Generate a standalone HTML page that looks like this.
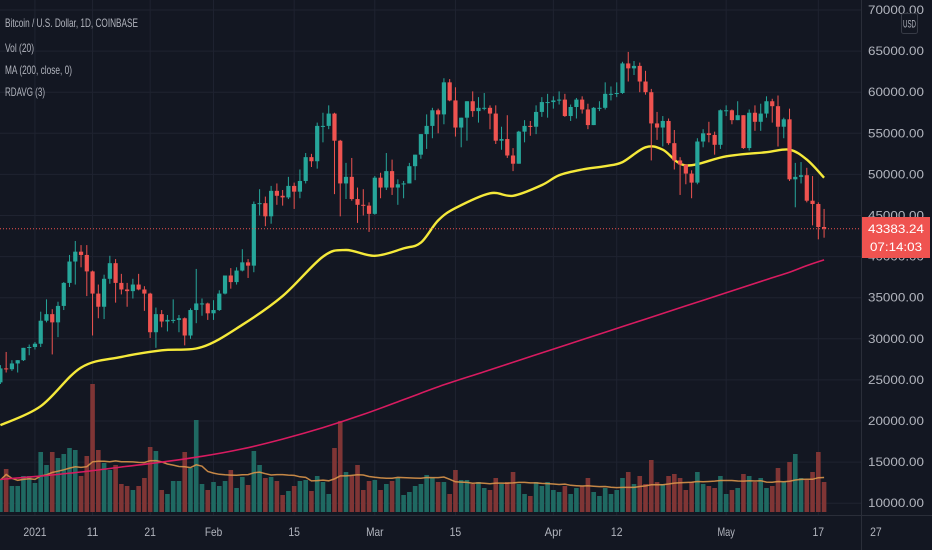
<!DOCTYPE html>
<html><head><meta charset="utf-8">
<style>
html,body{margin:0;padding:0;background:#131722;}
svg{display:block;font-family:"Liberation Sans",sans-serif;}
</style></head>
<body>
<svg id="chart" width="932" height="550" viewBox="0 0 932 550" xmlns="http://www.w3.org/2000/svg">
<rect x="0" y="0" width="932" height="550" fill="#131722"/>
<g id="grid"></g>
<g id="vol"></g>
<g id="lines"></g>
<g id="candles"></g>
<g id="axes"></g>
<g fill="#b2b5be" font-size="12">
<text x="5" y="27" textLength="133" lengthAdjust="spacingAndGlyphs">Bitcoin / U.S. Dollar, 1D, COINBASE</text>
<text x="5" y="52" textLength="29" lengthAdjust="spacingAndGlyphs">Vol (20)</text>
<text x="5" y="74" textLength="67" lengthAdjust="spacingAndGlyphs">MA (200, close, 0)</text>
<text x="5" y="96" textLength="40" lengthAdjust="spacingAndGlyphs">RDAVG (3)</text>
</g>
</svg>
<script>
const closes=[26.4,26.3,27.0,27.4,28.9,29.0,
29.4,32.2,33.0,32.0,34.0,36.8,39.4,40.6,40.2,38.2,35.5,33.9,37.3,39.2,36.8,36.0,35.8,36.6,36.0,35.5,30.8,33.0,32.1,32.3,32.3,32.5,30.4,33.5,34.3,34.3,33.1,
33.5,35.5,37.7,36.9,38.3,39.3,38.9,46.4,46.5,44.9,48.0,47.4,47.2,48.6,47.9,49.2,52.1,51.6,55.9,55.9,57.4,54.1,48.9,49.7,47.0,46.3,46.2,45.2,
49.6,48.4,50.4,48.4,48.8,48.9,51.0,52.4,54.9,55.9,57.8,57.3,61.2,59.0,55.7,56.9,58.9,57.7,58.1,58.1,57.4,54.1,54.3,52.3,51.3,55.2,55.9,55.8,57.6,58.8,58.8,
59.0,59.1,57.1,58.2,59.1,57.9,56.0,58.1,58.1,59.8,59.8,59.9,63.5,62.9,63.2,61.3,60.0,56.2,55.7,56.5,53.8,51.7,51.2,50.1,49.0,54.0,55.0,54.8,53.6,57.8,
57.8,56.6,57.2,53.2,57.5,56.4,57.4,58.9,58.3,55.8,56.7,49.4,49.7,49.9,46.8,46.4,43.6,43.4];
const highs=[26.8,28.4,27.4,27.4,28.9,29.3,
29.6,33.3,34.8,33.6,34.5,36.9,40.2,41.9,41.4,41.4,38.3,36.6,37.8,40.1,39.7,37.9,36.8,37.3,37.9,36.4,35.6,33.8,33.5,32.9,34.8,32.9,32.6,33.7,38.5,34.9,34.4,
34.7,35.9,37.7,38.6,38.7,40.9,39.7,46.7,48.2,47.3,48.6,48.9,48.1,49.7,49.0,50.6,52.6,52.5,56.3,57.5,58.4,57.5,54.2,51.4,52.0,48.4,48.2,46.6,
49.8,50.2,52.6,51.8,49.4,49.2,51.4,52.4,54.9,57.3,58.1,58.0,61.7,61.6,60.6,56.9,58.9,60.1,59.4,59.9,58.4,58.4,55.8,57.2,53.2,55.3,56.6,56.5,58.4,59.4,59.8,
59.5,60.1,59.8,58.5,59.3,59.5,58.6,58.2,58.9,61.2,60.7,61.2,63.7,64.9,63.8,63.6,62.6,60.4,57.6,57.1,56.8,55.4,52.1,51.2,50.5,54.4,55.5,56.4,55.2,57.9,
58.4,57.9,58.9,57.2,57.9,58.4,58.6,59.5,59.2,59.6,56.9,58.0,51.4,51.5,50.8,49.8,46.6,45.8];
const lows=[24.5,25.9,26.1,25.9,27.3,28.0,
28.7,29.0,32.0,28.1,30.2,33.5,36.3,36.6,38.7,35.2,30.4,32.5,32.4,36.7,34.4,35.4,33.9,34.9,35.9,33.4,30.1,28.9,31.4,30.9,31.9,30.8,29.2,30.0,31.9,32.8,32.3,
32.3,33.4,35.4,36.1,36.6,38.2,37.4,38.1,45.0,43.7,44.0,46.3,46.2,47.0,45.8,47.1,48.9,50.9,50.7,53.9,55.5,47.6,44.9,47.0,46.8,44.1,45.0,43.0,
45.1,47.1,48.1,47.5,46.3,47.1,48.9,49.3,51.9,53.1,54.4,55.0,56.1,58.9,54.6,53.3,54.1,57.0,56.3,57.8,55.5,53.7,53.0,52.0,50.4,51.3,53.9,54.7,54.9,57.0,56.9,
58.0,58.5,57.0,56.5,56.8,57.4,55.5,56.0,57.7,57.9,59.0,59.4,59.8,61.3,62.1,60.0,59.7,51.7,54.2,53.4,53.6,50.6,47.5,48.8,47.1,48.8,53.3,53.9,52.4,53.1,
57.1,56.1,56.6,53.1,52.9,55.3,55.3,56.9,56.3,53.4,54.4,49.2,46.0,48.9,46.6,43.8,42.1,42.3];
const volumes=[32,43,26,26,36,36,29,60,47,60,54,58,64,62,36,56,128,62,49,42,47,28,26,22,26,34,65,61,22,18,31,31,60,44,92,28,22,30,26,31,42,24,35,27,61,47,34,35,31,17,21,26,31,32,21,36,30,18,64,91,40,36,47,22,31,32,22,28,31,34,17,20,26,28,37,34,30,30,18,42,32,
32,28,30,24,22,34,28,30,40,28,18,16,30,26,30,
22,20,26,18,24,26,34,20,16,24,18,22,34,40,28,
36,28,52,30,28,36,38,34,22,30,40,28,26,24,36,
18,22,24,38,36,30,34,24,26,44,30,50,58,34,32,40,60,30];
const firstOpen=24.7;
const maIdx=[0,7,14,21,28,35,42,49,56,60,65,70,73,76,79,85,89,94,97,101,105,108,112,115,119,126,133,137,140,143];
const ma50=[19.5,21.8,26.5,27.8,28.6,29.0,31.7,35.2,40.0,40.8,40.1,41.0,41.7,44.4,45.9,47.7,47.4,48.7,49.9,50.6,51.0,51.5,53.3,53.0,51.1,52.2,52.7,53.0,51.8,49.6];
const ma200Idx=[0,7,14,21,28,35,42,49,56,63,70,77,84,91,98,105,112,119,126,133,137,140,143];
const ma200=[12.9,13.3,13.8,14.4,15.0,15.7,16.6,17.8,19.2,20.8,22.6,24.4,26.0,27.6,29.2,30.8,32.4,34.0,35.6,37.2,38.1,38.9,39.6];
const priceTicks=[70,65,60,55,50,45,40,35,30,25,20,15,10];
const dateLabels=["2021","11","21","Feb","15","Mar","15","Apr","12","May","17","27"];
const dateIdx=[6,16,26,37,51,65,79,96,107,126,142,152];
const lastPrice="43383.24", lastPriceVal=43.383, countdown="07:14:03";

const NS="http://www.w3.org/2000/svg";
const X=i=>0.4+i*5.76;
const Y=p=>10+(70-p)*8.22;
const VBASE=512, VS=1.0;
function mk(tag,attrs,parent,txt){const e=document.createElementNS(NS,tag);for(const k in attrs)e.setAttribute(k,attrs[k]);if(txt!==undefined)e.textContent=txt;parent.appendChild(e);return e;}
const grid=document.getElementById('grid'),vol=document.getElementById('vol'),lines=document.getElementById('lines'),cg=document.getElementById('candles'),axes=document.getElementById('axes');
const PW=861;
priceTicks.forEach(p=>{const l=mk('line',{x1:0,x2:PW,y1:Y(p),y2:Y(p),stroke:'#1f2330','stroke-width':1},grid);

});
dateIdx.forEach(i=>{if(X(i)<PW){const l=mk('line',{x1:X(i),x2:X(i),y1:0,y2:515,stroke:'#1f2330','stroke-width':1},grid);

}});
const opens=closes.map((c,i)=>i===0?firstOpen:closes[i-1]);
volumes.forEach((v,i)=>{const up=closes[i]>=opens[i];const r=mk('rect',{x:X(i)-2.3,y:VBASE-v*VS,width:4.6,height:v*VS,fill:up?'#1f6962':'#7f3535'},vol);

});
let vpts=[];volumes.forEach((v,i)=>{const s=volumes.slice(Math.max(0,i-19),i+1);const a=s.reduce((x,y)=>x+y,0)/s.length;vpts.push(X(i).toFixed(1)+','+(VBASE-a*VS).toFixed(1));});
const vm=mk('polyline',{points:vpts.join(' '),fill:'none',stroke:'#d9934a','stroke-width':1.5,opacity:0.9},lines);


function smooth(idx,vals){let d='';const p=idx.map((i,k)=>[X(i),Y(vals[k])]);d='M'+p[0][0]+','+p[0][1];for(let k=0;k<p.length-1;k++){const p0=p[Math.max(0,k-1)],p1=p[k],p2=p[k+1],p3=p[Math.min(p.length-1,k+2)];const c1=[p1[0]+(p2[0]-p0[0])/6,p1[1]+(p2[1]-p0[1])/6],c2=[p2[0]-(p3[0]-p1[0])/6,p2[1]-(p3[1]-p1[1])/6];d+=` C${c1[0].toFixed(1)},${c1[1].toFixed(1)} ${c2[0].toFixed(1)},${c2[1].toFixed(1)} ${p2[0].toFixed(1)},${p2[1].toFixed(1)}`;}return d;}
const l200=mk('path',{d:smooth(ma200Idx,ma200),fill:'none',stroke:'#d81b60','stroke-width':1.6},lines);


const l50=mk('path',{d:smooth(maIdx,ma50),fill:'none',stroke:'#f5e93a','stroke-width':2.4},lines);


closes.forEach((c,i)=>{const o=opens[i],up=c>=o,col=up?'#26a69a':'#ef5350';const x=X(i);
const w=mk('line',{x1:x,x2:x,y1:Y(highs[i]),y2:Y(lows[i]),stroke:col,'stroke-width':1},cg);


const top=Y(Math.max(o,c)),h=Math.max(1,Y(Math.min(o,c))-top);
const b=mk('rect',{x:x-2.1,y:top,width:4.2,height:h,fill:col},cg);

});
const pl=mk('line',{x1:0,x2:PW,y1:Y(lastPriceVal),y2:Y(lastPriceVal),stroke:'#ef5350','stroke-width':1,'stroke-dasharray':'1,2'},axes);


const sep=mk('line',{x1:PW+0.5,x2:PW+0.5,y1:0,y2:550,stroke:'#2a2e39','stroke-width':1},axes);


const bsep=mk('line',{x1:0,x2:932,y1:515.5,y2:515.5,stroke:'#2a2e39','stroke-width':1},axes);


priceTicks.forEach(p=>{const t=mk('text',{x:868,y:Y(p)+4,fill:'#b2b5be','font-size':12,textLength:56,lengthAdjust:'spacingAndGlyphs'},axes,(p*1000).toFixed(2));

});
dateLabels.forEach((s,k)=>{const t=mk('text',{x:X(dateIdx[k]),y:536,fill:'#b2b5be','font-size':12,'text-anchor':'middle',textLength:s.length*5.8,lengthAdjust:'spacingAndGlyphs'},axes,s);

});
const ub=mk('rect',{x:901.5,y:13.5,width:16,height:20,rx:2,fill:'#131722',stroke:'#363a45'},axes);


const ut=mk('text',{x:909.5,y:27.5,fill:'#b2b5be','font-size':11,'text-anchor':'middle',textLength:13,lengthAdjust:'spacingAndGlyphs'},axes,'USD');


const pb=mk('rect',{x:862,y:217,width:68,height:41,fill:'#ef5350'},axes);


const pt=mk('text',{x:868,y:233,fill:'#ffffff','font-size':12,textLength:56,lengthAdjust:'spacingAndGlyphs'},axes,lastPrice);


const ct=mk('text',{x:870,y:251,fill:'#ffffff','font-size':12,textLength:52,lengthAdjust:'spacingAndGlyphs'},axes,countdown);


</script>
</body></html>
